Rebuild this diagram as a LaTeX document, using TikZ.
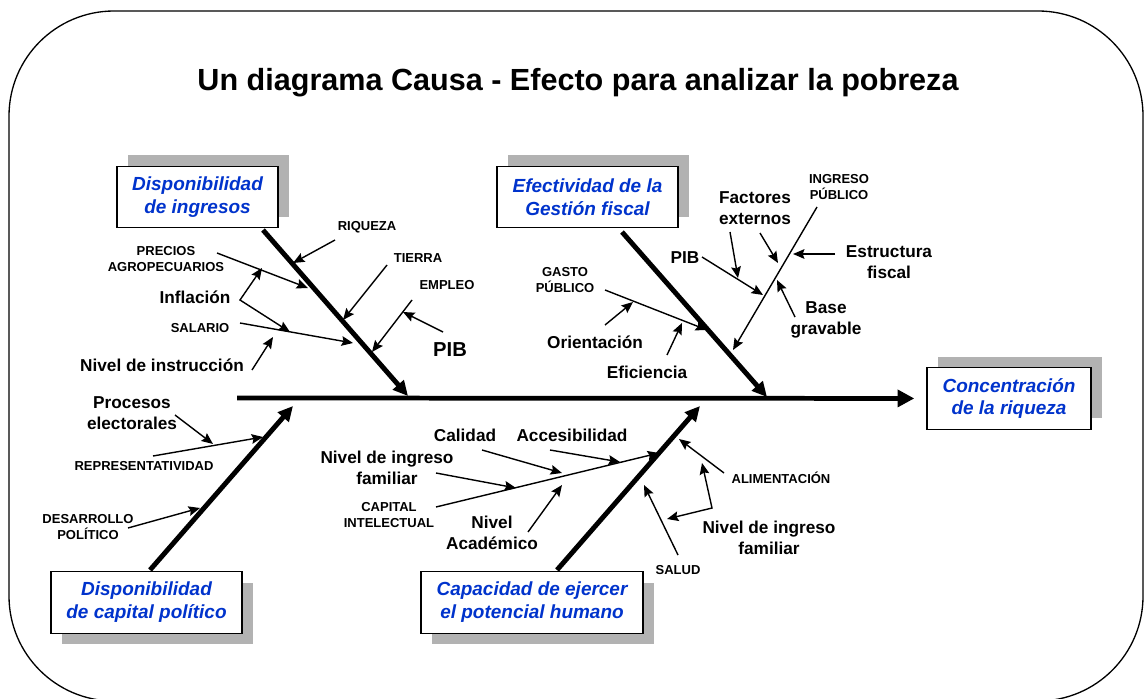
\documentclass[tikz,border=0pt]{standalone}
\usepackage{fontspec}
\setmainfont{Liberation Sans}
\usetikzlibrary{arrows.meta,shadows}
\definecolor{azul}{RGB}{0,51,204}
\definecolor{sombra}{RGB}{178,178,178}

\begin{document}
\begin{tikzpicture}[x=0.02cm, y=-0.02cm,
        causa/.style = {draw, line width=0.8pt, fill=white, text=azul, align=center,
                        font=\bfseries\itshape\fontsize{10.8}{13}\selectfont,
                        minimum height=1.23cm, inner sep=1pt},
        sombra arriba/.style = {general shadow={fill=sombra, shadow xshift=0.22cm, shadow yshift=0.22cm}},
        sombra abajo/.style  = {general shadow={fill=sombra, shadow xshift=0.22cm, shadow yshift=-0.22cm}},
        titulo/.style = {font=\bfseries\fontsize{17.4}{20}\selectfont, inner sep=0pt},
        medio/.style  = {font=\bfseries\fontsize{9.8}{11.9}\selectfont, align=center, inner sep=0pt},
        chico/.style  = {font=\bfseries\fontsize{7.4}{9}\selectfont, align=center, inner sep=0pt},
        grande/.style = {font=\bfseries\fontsize{11.5}{14}\selectfont, inner sep=0pt},
        espina/.style = {line width=2.7pt, -{Triangle[length=9.5pt, width=9.5pt]}},
        hueso/.style  = {line width=2.8pt, -{Triangle[length=8.5pt, width=8pt]}},
        flecha/.style = {line width=0.8pt, -{Stealth[length=6.5pt, width=5.5pt, inset=1pt]}},
        horquilla/.style = {line width=0.8pt,
            {Stealth[length=6.5pt, width=5.5pt, inset=1pt]}-{Stealth[length=6.5pt, width=5.5pt, inset=1pt]}},
    ]
    \useasboundingbox (0, 0) rectangle (1145, 699);
    \clip (0, 0) rectangle (1145, 699);

    % marco
    \draw[line width=0.75pt, rounded corners=2.1cm] (9, 11) rectangle (1143, 701);

    \path
        (578, 91)     node (tit) [titulo, anchor=base] {Un diagrama Causa - Efecto para analizar la pobreza}

        (197.5, 197)  node (ingresos) [causa, sombra arriba, minimum width=3.22cm] {Disponibilidad\\de ingresos}
        (587.5, 197)  node (gestion)  [causa, sombra arriba, minimum width=3.62cm] {Efectividad de la\\Gestión fiscal}
        (146.5, 602.5) node (politico) [causa, sombra abajo, minimum width=3.82cm] {Disponibilidad\\de capital político}
        (532, 602.5)  node (humano)   [causa, sombra abajo, minimum width=4.44cm] {Capacidad de ejercer\\el potencial humano}
        (1009, 398.5) node (riqueza)  [causa, sombra arriba, minimum width=3.28cm] {Concentración\\de la riqueza}

        % ingresos
        (367, 227) node (riq)   [chico] {RIQUEZA}
        (166, 259) node (prec)  [chico] {PRECIOS\\AGROPECUARIOS}
        (195, 297) node (infl)  [medio] {Inflación}
        (200, 328) node (sal)   [chico] {SALARIO}
        (162, 365) node (instr) [medio] {Nivel de instrucción}
        (418, 258) node (tie)   [chico] {TIERRA}
        (447, 285) node (emp)   [chico] {EMPLEO}
        (450, 350) node (pib1)  [grande] {PIB}

        % gestion fiscal
        (565, 280) node (gasto) [chico] {GASTO\\PÚBLICO}
        (595, 342) node (orie)  [medio] {Orientación}
        (647, 372) node (efic)  [medio] {Eficiencia}
        (839, 187) node (ingp)  [chico] {INGRESO\\PÚBLICO}
        (755, 208) node (fact)  [medio] {Factores\\externos}
        (685, 258) node (pib2)  [medio] {PIB}
        (889, 262) node (estr)  [medio] {Estructura\\fiscal}
        (826, 320) node (base)  [medio] {Base\\gravable}

        % capital politico
        (132, 413) node (proc)  [medio] {Procesos\\electorales}
        (144, 466) node (repr)  [chico] {REPRESENTATIVIDAD}
        (88, 527)  node (desa)  [chico] {DESARROLLO\\POLÍTICO}

        % potencial humano
        (389, 515) node (capi)  [chico] {CAPITAL\\INTELECTUAL}
        (387, 468) node (ning1) [medio] {Nivel de ingreso\\familiar}
        (465, 435) node (cali)  [medio] {Calidad}
        (572, 435) node (acce)  [medio] {Accesibilidad}
        (492, 533) node (acad)  [medio] {Nivel\\Académico}
        (781, 478) node (alim)  [chico] {ALIMENTACIÓN}
        (769, 538) node (ning2) [medio] {Nivel de ingreso\\familiar}
        (678, 570) node (salu)  [chico] {SALUD}
    ;

    \path
        (237, 398) coordinate (cola)
        (263, 230) coordinate (i0)  (408, 396) coordinate (i1)
        (622, 232) coordinate (g0)  (767, 397) coordinate (g1)
        (150, 570) coordinate (p0)  (293, 406) coordinate (p1)
        (557, 570) coordinate (h0)  (700, 406) coordinate (h1)

        (335, 240) coordinate (riq-a)   (293, 263) coordinate (riq-b)
        (217, 253) coordinate (prec-a)  (308, 288) coordinate (prec-b)
        (240, 300) coordinate (infl-v)  (262, 268) coordinate (infl-a)  (290, 332) coordinate (infl-b)
        (240, 323) coordinate (sal-a)   (353, 343) coordinate (sal-b)
        (252, 370) coordinate (instr-a) (273, 337) coordinate (instr-b)
        (387, 265) coordinate (tie-a)   (343, 320) coordinate (tie-b)
        (412, 300) coordinate (emp-a)   (372, 352) coordinate (emp-b)
        (443, 332) coordinate (pib1-a)  (403, 312) coordinate (pib1-b)

        (605, 290) coordinate (gasto-a) (707, 330) coordinate (gasto-b)
        (605, 325) coordinate (orie-a)  (633, 302) coordinate (orie-b)
        (667, 355) coordinate (efic-a)  (682, 323) coordinate (efic-b)
        (817, 207) coordinate (ingp-a)  (733, 350) coordinate (ingp-b)
        (730, 232) coordinate (fact-a)  (738, 278) coordinate (fact-b)
        (760, 233) coordinate (fact-c)  (778, 263) coordinate (fact-d)
        (702, 257) coordinate (pib2-a)  (763, 295) coordinate (pib2-b)
        (835, 254) coordinate (estr-a)  (793, 254) coordinate (estr-b)
        (795, 317) coordinate (base-a)  (777, 280) coordinate (base-b)

        (175, 415) coordinate (proc-a)  (213, 444) coordinate (proc-b)
        (153, 456) coordinate (repr-a)  (263, 437) coordinate (repr-b)
        (128, 528) coordinate (desa-a)  (200, 508) coordinate (desa-b)

        (436, 507) coordinate (capi-a)  (659, 453) coordinate (capi-b)
        (436, 473) coordinate (ning1-a) (516, 488) coordinate (ning1-b)
        (482, 450) coordinate (cali-a)  (562, 473) coordinate (cali-b)
        (550, 450) coordinate (acce-a)  (620, 462) coordinate (acce-b)
        (528, 532) coordinate (acad-a)  (562, 485) coordinate (acad-b)
        (724, 473) coordinate (alim-a)  (679, 439) coordinate (alim-b)
        (712, 508) coordinate (ning2-v) (702, 463) coordinate (ning2-a) (667, 519) coordinate (ning2-b)
        (678, 555) coordinate (salu-a)  (644, 485) coordinate (salu-b)
    ;

    % espina y huesos
    \draw[espina, shorten >=0.24cm] (cola) -- (riqueza);
    \draw[hueso] (i0) -- (i1);
    \draw[hueso] (g0) -- (g1);
    \draw[hueso] (p0) -- (p1);
    \draw[hueso] (h0) -- (h1);

    \draw[flecha] (riq-a) -- (riq-b);
    \draw[flecha] (prec-a) -- (prec-b);
    \draw[horquilla] (infl-a) -- (infl-v) -- (infl-b);
    \draw[flecha] (sal-a) -- (sal-b);
    \draw[flecha] (instr-a) -- (instr-b);
    \draw[flecha] (tie-a) -- (tie-b);
    \draw[flecha] (emp-a) -- (emp-b);
    \draw[flecha] (pib1-a) -- (pib1-b);

    \draw[flecha] (gasto-a) -- (gasto-b);
    \draw[flecha] (orie-a) -- (orie-b);
    \draw[flecha] (efic-a) -- (efic-b);
    \draw[flecha] (ingp-a) -- (ingp-b);
    \draw[flecha] (fact-a) -- (fact-b);
    \draw[flecha] (fact-c) -- (fact-d);
    \draw[flecha] (pib2-a) -- (pib2-b);
    \draw[flecha] (estr-a) -- (estr-b);
    \draw[flecha] (base-a) -- (base-b);

    \draw[flecha] (proc-a) -- (proc-b);
    \draw[flecha] (repr-a) -- (repr-b);
    \draw[flecha] (desa-a) -- (desa-b);

    \draw[flecha] (capi-a) -- (capi-b);
    \draw[flecha] (ning1-a) -- (ning1-b);
    \draw[flecha] (cali-a) -- (cali-b);
    \draw[flecha] (acce-a) -- (acce-b);
    \draw[flecha] (acad-a) -- (acad-b);
    \draw[flecha] (alim-a) -- (alim-b);
    \draw[horquilla] (ning2-a) -- (ning2-v) -- (ning2-b);
    \draw[flecha] (salu-a) -- (salu-b);
\end{tikzpicture}
\end{document}
